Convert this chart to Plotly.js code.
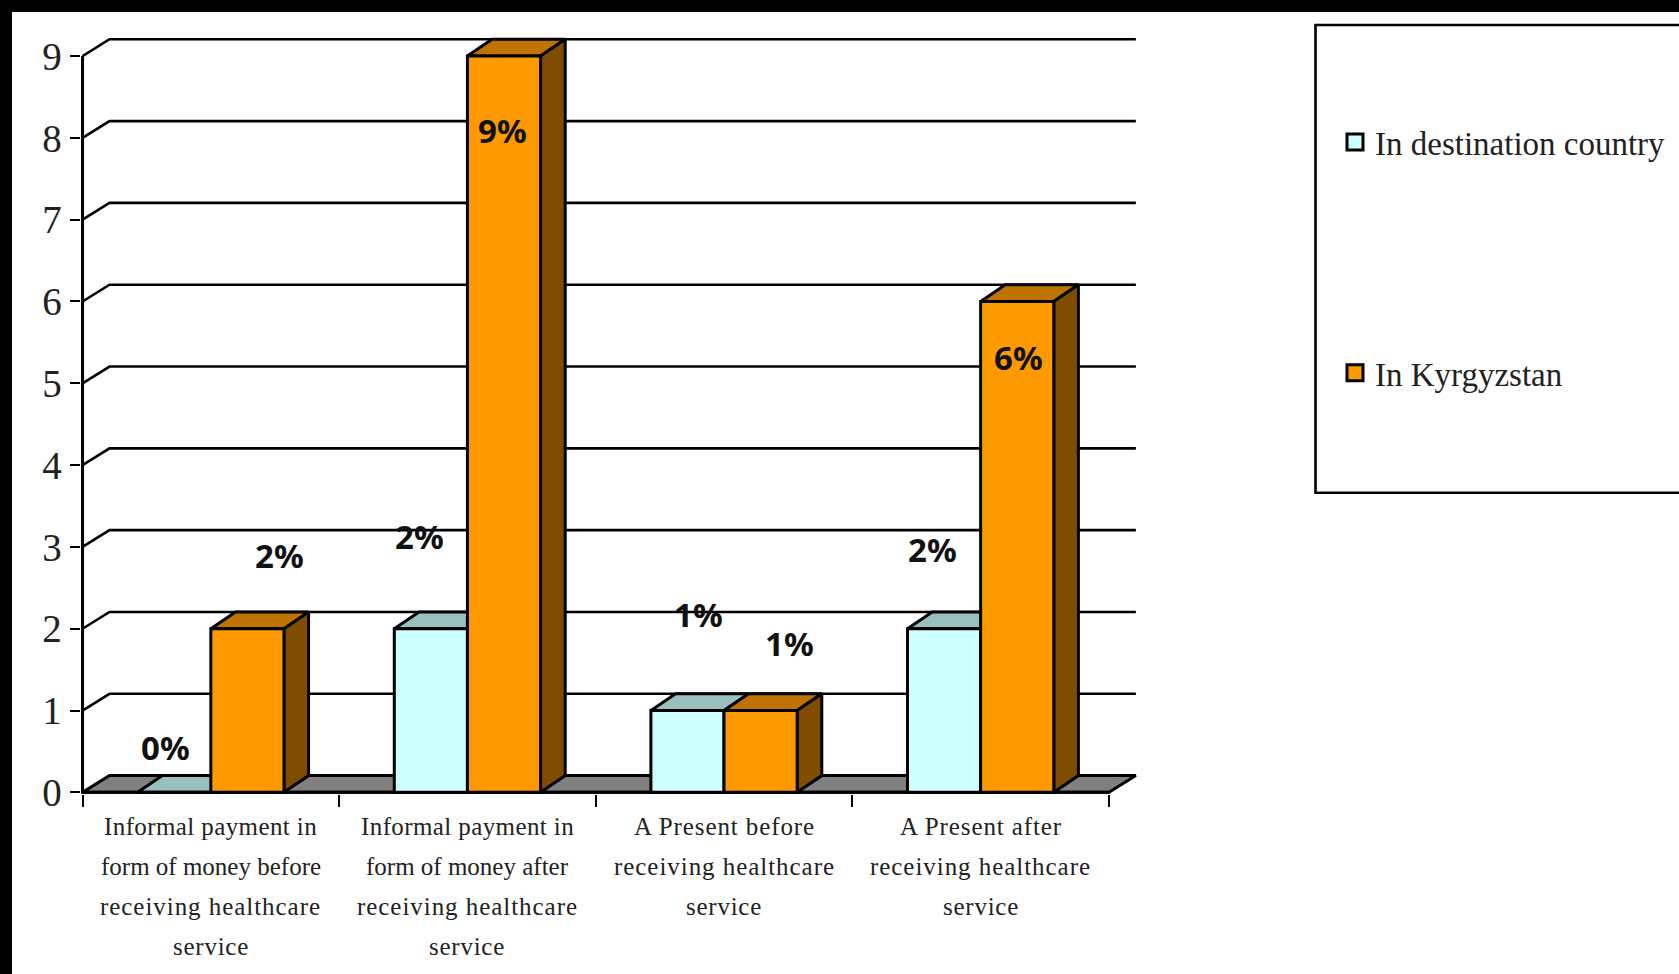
<!DOCTYPE html>
<html>
<head>
<meta charset="utf-8">
<script src="https://cdn.plot.ly/plotly-3.0.1.min.js"></script>
<style>
  html, body { margin: 0; padding: 0; background: #000; overflow: hidden; }
  #chart { position: absolute; left: 12px; top: 12px; width: 1667px; height: 962px; background: #fff; }
</style>
</head>
<body>
<div id="chart"></div>
<script>
// Chart content
const categoryLines = [
  ["Informal payment in", "form of money before", "receiving healthcare", "service"],
  ["Informal payment in", "form of money after", "receiving healthcare", "service"],
  ["A Present before", "receiving healthcare", "service"],
  ["A Present after", "receiving healthcare", "service"]
];
const seriesNames = ["In destination country", "In Kyrgyzstan"];
const destinationValues = [0, 2, 1, 2];
const kyrgyzstanValues = [2, 9, 1, 6];
const valueTicks = [0, 1, 2, 3, 4, 5, 6, 7, 8, 9];

// Hand-placed value labels, in axis units: [x, y] for each bar
const destinationLabelPos = [[-0.178, 0.55], [0.815, 3.13], [1.90, 2.17], [2.811, 2.97]];
const kyrgyzstanLabelPos = [[0.268, 2.89], [1.137, 8.09], [2.256, 1.82], [3.149, 5.31]];

// Tracking for the category text, keyed by the first word of a line
const lineTracking = { Informal: 0.4, form: 0, A: 0.9, receiving: 0.95, service: 0.75 };

// Pseudo-3D projection, in axis units
const wallDx = 0.105, wallDy = 0.205;   // floor and gridline depth
const barDx = 0.096, barDy = 0.205;     // bar depth
const barWidth = 0.285;

// Styling
const serif = "Liberation Serif, Times New Roman, serif";
const ink = "#000000";
const textInk = "#222222";
const edge = 3;
const colors = {
  dest: { front: "#CCFFFF", top: "#99BFBF", side: "#669999" },
  kyr:  { front: "#FF9900", top: "#BF7300", side: "#7F4C00" }
};

const xIndex = categoryLines.map((_, i) => i);
const xMin = -0.5, xMax = categoryLines.length - 0.5, yMax = valueTicks[valueTicks.length - 1];

function face(xs, ys, color) {
  return {
    type: "scatter", mode: "lines", x: xs.concat(xs[0]), y: ys.concat(ys[0]),
    fill: "toself", fillcolor: color, line: { color: ink, width: edge, simplify: false },
    showlegend: false, hoverinfo: "skip"
  };
}

// Back wall: slanted stub plus a horizontal rule for each value level
const gridX = [], gridY = [];
valueTicks.slice(1).forEach(v => {
  gridX.push(xMin, xMin + wallDx, xMax + wallDx, null);
  gridY.push(v, v + wallDy, v + wallDy, null);
});

const traces = [
  {
    type: "scatter", mode: "lines", x: gridX, y: gridY,
    line: { color: ink, width: 2.6 }, showlegend: false, hoverinfo: "skip"
  },
  face([xMin, xMin + wallDx, xMax + wallDx, xMax], [0, wallDy, wallDy, 0], "#808080"),
  // Front frame of the value and category axes
  {
    type: "scatter", mode: "lines", x: [xMin, xMin, xMax], y: [yMax, 0, 0],
    line: { color: ink, width: edge }, showlegend: false, hoverinfo: "skip"
  }
];

// Top and side faces, painted behind the bar fronts
xIndex.forEach(i => {
  const v = destinationValues[i], x0 = i - barWidth, x1 = i;
  traces.push(face([x0, x0 + barDx, x1 + barDx, x1], [v, v + barDy, v + barDy, v], colors.dest.top));
});
xIndex.forEach(i => {
  const v = kyrgyzstanValues[i], x0 = i, x1 = i + barWidth;
  traces.push(face([x0, x0 + barDx, x1 + barDx, x1], [v, v + barDy, v + barDy, v], colors.kyr.top));
  traces.push(face([x1, x1 + barDx, x1 + barDx, x1], [0, barDy, v + barDy, v], colors.kyr.side));
});

// Bar fronts live on an overlaid axis pair so they sit above the faces
[[destinationValues, colors.dest.front], [kyrgyzstanValues, colors.kyr.front]].forEach(([vals, col], k) => {
  traces.push({
    type: "bar", x: xIndex, y: vals, xaxis: "x2", yaxis: "y2",
    marker: { color: col, line: { color: ink, width: edge } },
    cliponaxis: false, showlegend: false, name: seriesNames[k], hoverinfo: "y"
  });
});

// Legend entries
[colors.dest.front, colors.kyr.front].forEach((col, k) => {
  traces.push({
    type: "scatter", mode: "markers", x: [null], y: [null], xaxis: "x2", yaxis: "y2",
    name: seriesNames[k], legendgroup: "g" + k, showlegend: true,
    marker: { symbol: "square", size: 16, color: col, line: { color: ink, width: 3 } }
  });
});

// Text: category lines and value labels
const annotations = [];
categoryLines.forEach((lines, i) => {
  lines.forEach((line, j) => {
    const tracking = lineTracking[line.split(" ")[0]];
    annotations.push({
      text: '<span style="letter-spacing:' + tracking + 'px">' + line + "</span>",
      x: i, y: 0, xref: "x", yref: "y", yshift: -34 - 40.2 * j,
      xanchor: "center", yanchor: "middle", showarrow: false,
      font: { family: serif, size: 25, color: textInk }
    });
  });
});
[[destinationValues, destinationLabelPos], [kyrgyzstanValues, kyrgyzstanLabelPos]].forEach(([vals, pos]) => {
  vals.forEach((v, i) => {
    annotations.push({
      text: "<b>" + v + "%</b>", x: pos[i][0], y: pos[i][1], xref: "x", yref: "y",
      xanchor: "center", yanchor: "middle", showarrow: false,
      font: { family: "Noto Sans, sans-serif", size: 33, color: "#111111" }
    });
  });
});

// Axis scale and plot box, with a sliver of room so the frame strokes are not cut
const W = 1667, H = 962;
const pxPerX = 256.5, pxPerY = 81.78;
const xRange = [xMin - 0.006, xMax + wallDx + 0.02];
const yRange = [-0.02, yMax + wallDy + 0.04];
const plotW = (xRange[1] - xRange[0]) * pxPerX, plotH = (yRange[1] - yRange[0]) * pxPerY;
const margin = {
  l: 70.5 - (xMin - xRange[0]) * pxPerX,
  t: 44 - (yRange[1] - yMax) * pxPerY,
  pad: 0
};
margin.r = W - margin.l - plotW;
margin.b = H - margin.t - plotH;

const toPaperX = px => (px - 12 - margin.l) / plotW;
const toPaperY = py => 1 - (py - 12 - margin.t) / plotH;

const layout = {
  width: W, height: H, margin: margin,
  paper_bgcolor: "#ffffff", plot_bgcolor: "rgba(0,0,0,0)",
  bargap: 1 - 2 * barWidth, bargroupgap: 0, barmode: "group",
  xaxis: {
    range: xRange, tickmode: "array",
    tickvals: categoryLines.map((_, i) => i - 0.5).concat(xMax), showticklabels: false,
    ticks: "outside", ticklen: 12, tickwidth: 2.4, tickcolor: ink,
    showline: false, showgrid: false, zeroline: false, fixedrange: true
  },
  yaxis: {
    range: yRange, tickmode: "array", tickvals: valueTicks, ticktext: valueTicks.map(String),
    tickfont: { family: serif, size: 39, color: textInk },
    ticks: "outside", ticklen: 10.5, tickwidth: 2.4, tickcolor: ink,
    showline: false, showgrid: false, zeroline: false, fixedrange: true
  },
  xaxis2: { overlaying: "x", range: xRange, visible: false, fixedrange: true },
  yaxis2: { overlaying: "y", range: yRange, visible: false, fixedrange: true },
  showlegend: true,
  legend: {
    xref: "container", yref: "container",
    x: (1335 - 12) / W, xanchor: "left",
    y: 1 - (114 - 12) / H, yanchor: "top",
    bgcolor: "rgba(0,0,0,0)", borderwidth: 0, tracegroupgap: 185,
    font: { family: serif, size: 33, color: textInk }
  },
  shapes: [{
    type: "rect", xref: "paper", yref: "paper", layer: "below",
    x0: toPaperX(1315), x1: toPaperX(1700),
    y0: toPaperY(492.5), y1: toPaperY(25),
    line: { color: ink, width: 2.6 }, fillcolor: "rgba(0,0,0,0)"
  }],
  annotations: annotations
};

Plotly.newPlot("chart", traces, layout, { displayModeBar: false, responsive: false });
</script>
</body>
</html>
